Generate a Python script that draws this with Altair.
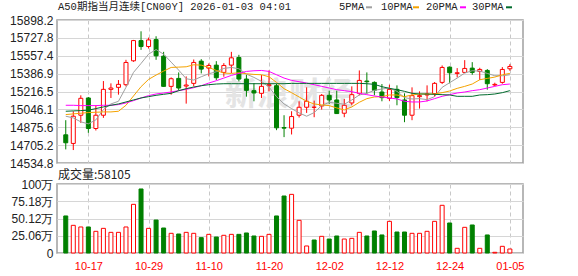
import altair as alt
import pandas as pd

# ---------------- data ----------------
opens = [14803.6, 14721.4, 14990.3, 15154.8, 14863.8, 14990.3, 15237.0, 15256.0, 15281.3, 15509.1,
         15702.0, 15645.1, 15711.5, 15553.4, 15265.5, 15341.4, 15268.7, 15294.0, 15505.9, 15439.5,
         15467.9, 15398.4, 15467.9, 15540.7, 15335.1, 15224.4, 15199.1, 15271.8, 15271.8, 14873.3,
         14866.9, 14990.3, 15066.2, 15066.2, 15078.9, 15180.1, 15135.8, 15009.3, 15107.3, 15199.1,
         15316.1, 15303.5, 15211.7, 15151.6, 15237.0, 15135.8, 14990.3, 15167.4, 15183.3, 15195.9,
         15303.5, 15449.0, 15388.9, 15398.4, 15439.5, 15407.9, 15417.3, 15278.2, 15303.5, 15433.2]
highs = [14942.9, 15028.2, 15180.1, 15164.3, 15085.2, 15316.1, 15294.0, 15325.6, 15518.6, 15708.4,
         15790.6, 15730.5, 15743.2, 15594.5, 15350.9, 15398.4, 15360.4, 15521.7, 15524.9, 15483.8,
         15505.9, 15486.9, 15594.5, 15566.0, 15376.2, 15297.1, 15373.1, 15417.3, 15290.8, 14990.3,
         15028.2, 15123.2, 15256.0, 15129.5, 15192.7, 15224.4, 15224.4, 15145.3, 15265.5, 15417.3,
         15398.4, 15312.9, 15287.6, 15281.3, 15275.0, 15199.1, 15256.0, 15218.0, 15275.0, 15306.6,
         15464.8, 15455.3, 15439.5, 15515.4, 15496.4, 15442.7, 15430.0, 15300.3, 15449.0, 15477.5]
lows = [14664.5, 14658.2, 14917.5, 14822.6, 14844.8, 14965.0, 15154.8, 15186.4, 15265.5, 15499.6,
        15613.5, 15626.1, 15518.6, 15262.0, 15186.4, 15227.5, 15101.0, 15265.5, 15388.9, 15360.4,
        15325.6, 15357.2, 15392.0, 15312.9, 15167.4, 15123.2, 15154.8, 15218.0, 14847.9, 14781.5,
        14806.8, 14968.1, 15012.4, 14971.3, 15044.1, 15097.8, 15002.0, 14971.3, 15085.2, 15180.1,
        15192.7, 15180.1, 15123.2, 15126.3, 15085.2, 14923.9, 14942.9, 15053.6, 15123.2, 15167.4,
        15287.6, 15294.0, 15350.9, 15392.0, 15376.2, 15325.6, 15233.9, 15268.7, 15290.8, 15414.2]
closes = [14727.7, 14980.8, 15151.6, 14863.8, 14990.3, 15237.0, 15249.7, 15284.5, 15493.3, 15702.0,
          15645.1, 15708.4, 15556.5, 15265.5, 15338.3, 15249.7, 15278.2, 15493.3, 15430.0, 15464.8,
          15347.7, 15464.8, 15537.6, 15335.1, 15227.5, 15202.2, 15265.5, 15281.3, 14870.1, 14866.9,
          14977.6, 15066.2, 15123.2, 15066.2, 15180.1, 15135.8, 15006.1, 15085.2, 15186.4, 15322.4,
          15309.8, 15227.5, 15158.0, 15237.0, 15158.0, 14990.3, 15176.9, 15176.9, 15192.7, 15294.0,
          15445.8, 15395.2, 15395.2, 15436.3, 15398.4, 15426.8, 15290.8, 15284.5, 15426.8, 15455.3]
vols = [53.8, 40.2, 37.8, 37.8, 31.5, 35.8, 30.0, 30.0, 37.8, 70.7,
        93.0, 35.8, 47.9, 36.3, 28.6, 27.6, 30.0, 28.6, 22.3, 27.1,
        23.2, 25.7, 27.1, 27.1, 29.1, 24.7, 24.2, 27.1, 53.8, 82.8,
        85.2, 47.5, 10.2, 18.9, 24.2, 20.3, 24.7, 20.3, 21.3, 30.0,
        24.7, 32.0, 26.2, 46.0, 30.5, 30.5, 28.6, 28.6, 31.5, 46.0,
        69.3, 43.6, 6.8, 37.3, 40.7, 6.8, 26.2, 1.0, 9.7, 5.81]
ma5 = [14980.8, 14965.0, 14927.0, 14908.0, 14946.0, 15044.1, 15097.8, 15123.2, 15256.0, 15398.4,
       15483.8, 15572.4, 15616.6, 15572.4, 15496.4, 15420.5, 15338.3, 15325.6, 15357.2, 15385.7,
       15404.7, 15436.3, 15445.8, 15433.2, 15382.5, 15350.9, 15312.9, 15259.2, 15167.4, 15097.8,
       15053.6, 15012.4, 14980.8, 15015.6, 15082.0, 15113.7, 15104.2, 15094.7, 15135.8, 15183.3,
       15199.1, 15227.5, 15240.2, 15249.7, 15218.0, 15158.0, 15145.3, 15148.5, 15139.0, 15167.4,
       15256.0, 15300.3, 15344.6, 15392.0, 15414.2, 15411.0, 15388.9, 15366.7, 15366.7, 15376.2]
ma10 = [14996.6, 15002.9, 15009.3, 15015.6, 15018.8, 15021.9, 15021.9, 15028.2, 15085.2, 15173.8,
        15262.4, 15331.9, 15373.1, 15411.0, 15445.8, 15449.0, 15452.2, 15471.1, 15467.9, 15445.8,
        15417.3, 15392.0, 15388.9, 15395.2, 15385.7, 15379.4, 15376.2, 15357.2, 15303.5, 15243.4,
        15205.4, 15164.3, 15123.2, 15097.8, 15088.4, 15082.0, 15059.9, 15040.9, 15069.4, 15113.7,
        15148.5, 15164.3, 15167.4, 15183.3, 15183.3, 15167.4, 15183.3, 15192.7, 15192.7, 15192.7,
        15205.4, 15221.2, 15246.5, 15265.5, 15287.6, 15328.8, 15341.4, 15354.1, 15376.2, 15388.9]
ma20 = [15085.2, 15085.2, 15082.0, 15082.0, 15082.0, 15085.2, 15085.2, 15091.5, 15107.3, 15129.5,
        15154.8, 15176.9, 15192.7, 15202.2, 15211.7, 15224.4, 15237.0, 15252.9, 15271.8, 15297.1,
        15319.3, 15344.6, 15369.9, 15388.9, 15407.9, 15414.2, 15417.3, 15407.9, 15376.2, 15344.6,
        15322.4, 15309.8, 15297.1, 15281.3, 15265.5, 15249.7, 15233.9, 15224.4, 15214.9, 15199.1,
        15186.4, 15173.8, 15164.3, 15154.8, 15145.3, 15123.2, 15116.8, 15116.8, 15126.3, 15148.5,
        15170.6, 15186.4, 15202.2, 15211.7, 15224.4, 15233.9, 15249.7, 15265.5, 15281.3, 15287.6]
ma30 = [15028.2, 15031.4, 15034.6, 15037.7, 15053.6, 15069.4, 15085.2, 15097.8, 15116.8, 15135.8,
        15154.8, 15167.4, 15180.1, 15189.6, 15199.1, 15224.4, 15243.4, 15259.2, 15271.8, 15281.3,
        15287.6, 15290.8, 15290.8, 15290.8, 15290.8, 15290.8, 15290.8, 15290.8, 15290.8, 15290.8,
        15294.0, 15294.0, 15294.0, 15294.0, 15294.0, 15294.0, 15294.0, 15294.0, 15294.0, 15294.0,
        15290.8, 15284.5, 15262.4, 15246.5, 15233.9, 15218.0, 15199.1, 15192.7, 15192.7, 15189.6,
        15186.4, 15183.3, 15170.6, 15170.6, 15170.6, 15183.3, 15186.4, 15192.7, 15205.4, 15224.4]

tick_idx = [3, 11, 19, 27, 35, 43, 51, 59]
tick_labels = ['10-17', '10-29', '11-10', '11-20', '12-02', '12-12', '12-24', '01-05']
price_ticks = [14534.8, 14705.2, 14875.6, 15046.1, 15216.5, 15386.9, 15557.4, 15727.8, 15898.2]
vol_ticks = [0, 25.06, 50.12, 75.18, 100.24]
ma_names = ['5PMA', '10PMA', '20PMA', '30PMA']
ma_colors = ['#a0a0a0', '#f5a300', '#ff00ff', '#006b2d']
title_text = 'A50期指当月连续[CN00Y] 2026-01-03 04:01'
vol_text = '成交量:58105'
watermark_text = '新浪财经'

# ---------------- tables ----------------
n = len(closes)
cdf = pd.DataFrame({'i': list(range(n)), 'o': opens, 'h': highs, 'l': lows, 'c': closes, 'v': vols})
rows = []
for name, arr in zip(ma_names, [ma5, ma10, ma20, ma30]):
    for k, val in enumerate(arr):
        rows.append({'i': k, 'name': name, 'val': val})
madf = pd.DataFrame(rows)
one = alt.Data(values=[{}])

RED = '#ff0000'
GREEN = '#008000'
FRAME = '#a0a0a0'
GRID = '#d6d6d6'
W = 466

XMIN, XMAX = -0.5, 60.08
xs = alt.Scale(domain=[XMIN, XMAX], nice=False, zero=False)
ps = alt.Scale(domain=[price_ticks[0], price_ticks[-1]], nice=False, zero=False)
vs = alt.Scale(domain=[vol_ticks[0], vol_ticks[-1]], nice=False, zero=False)

lab_expr = ' : '.join(f"datum.value == {k} ? '{t}'" for k, t in zip(tick_idx, tick_labels)) + " : ''"
common_y = dict(orient='left', grid=True, gridColor=GRID, gridWidth=1, ticks=False, domain=False,
                labelFont='Liberation Sans', labelFontSize=12, labelColor='#222222', labelPadding=4,
                labelFlush=False, labelOverlap=False, labelBound=False, title=None,
                minExtent=56, maxExtent=56, tickCount=40)
p_axis = alt.Axis(values=price_ticks, format='.1f', **common_y)
v_axis = alt.Axis(values=vol_ticks, **common_y,
                  labelExpr="datum.value == 0 ? '0' : (datum.value > 100 ? '100万' : format(datum.value, '.2f') + '万')")
common_x = dict(values=tick_idx, grid=True, gridColor='#c8c8c8', gridDash=[4, 3], gridWidth=1,
                ticks=False, domain=False, title=None, orient='bottom', tickCount=40)
x_axis_p = alt.Axis(labels=False, minExtent=0, maxExtent=0, labelPadding=0, **common_x)
x_axis_v = alt.Axis(labelExpr=lab_expr, labelColor=RED, labelFont='Liberation Sans', labelFontSize=11,
                    labelPadding=7, labelFlush=False, labelOverlap=False, labelBound=False, **common_x)

up_c = 'datum.c >= datum.o'
up_v = 'datum.c > datum.o'


def label(txt, x, y, size, font, color='#222222', align='left', weight='normal'):
    return alt.Chart(one).mark_text(text=txt, align=align, baseline='middle', font=font,
                                    fontSize=size, color=color, fontWeight=weight).encode(
        x=alt.value(x), y=alt.value(y))


mono = 'Liberation Mono, Noto Sans CJK SC'

# ---------------- price panel ----------------
wick = alt.Chart(cdf).mark_rule(strokeWidth=1).encode(
    x=alt.X('i:Q', scale=xs, axis=x_axis_p),
    y=alt.Y('l:Q', scale=ps, axis=p_axis),
    y2='h:Q',
    color=alt.condition(up_c, alt.value(RED), alt.value(GREEN)))
body = alt.Chart(cdf).mark_bar(size=4, strokeWidth=1).encode(
    x=alt.X('i:Q', scale=xs),
    y=alt.Y('o:Q', scale=ps),
    y2='c:Q',
    fill=alt.condition(up_c, alt.value('white'), alt.value(GREEN)),
    stroke=alt.condition(up_c, alt.value(RED), alt.value(GREEN)))
ma_lines = alt.Chart(madf).mark_line(strokeWidth=1).encode(
    x=alt.X('i:Q', scale=xs),
    y=alt.Y('val:Q', scale=ps),
    color=alt.Color('name:N', scale=alt.Scale(domain=ma_names, range=ma_colors), legend=None),
    order='i:Q')

watermark = label(watermark_text, 232, 75, 32, 'Noto Sans CJK SC', color='#e4e4e4',
                  align='center', weight='bold')
title = label(title_text, 1, -13.5, 10.5, mono)
vol_label = label(vol_text, 1, 154.7, 12, 'Noto Sans CJK SC')
legend_layers = []
legend_x = [282, 324, 369, 415]
dash_x = [309, 356, 403, 449]
for name, col, lx, dx in zip(ma_names, ma_colors, legend_x, dash_x):
    legend_layers.append(label(name, lx, -13, 10.5, mono))
    legend_layers.append(alt.Chart(one).mark_rule(color=col, strokeWidth=2).encode(
        x=alt.value(dx), x2=alt.value(dx + 6), y=alt.value(-12.7)))

price = alt.layer(watermark, wick, body, ma_lines, title, vol_label, *legend_layers).properties(
    width=W, height=143)

# ---------------- volume panel ----------------
vbars = alt.Chart(cdf).mark_bar(size=4, strokeWidth=1).encode(
    x=alt.X('i:Q', scale=xs, axis=x_axis_v),
    y=alt.Y('v:Q', scale=vs, axis=v_axis),
    y2=alt.Y2Datum(0),
    fill=alt.condition(up_v, alt.value('white'), alt.value(GREEN)),
    stroke=alt.condition(up_v, alt.value(RED), alt.value(GREEN)))
volume = vbars.properties(width=W, height=69)

chart = alt.vconcat(price, volume, spacing=21, bounds='flush').resolve_scale(y='independent').properties(
    padding={'left': 0, 'top': 0, 'right': 0, 'bottom': 0},
).configure_view(stroke=FRAME, strokeWidth=1.5)

chart.save('out.html', embed_options={'renderer': 'svg', 'actions': False})
